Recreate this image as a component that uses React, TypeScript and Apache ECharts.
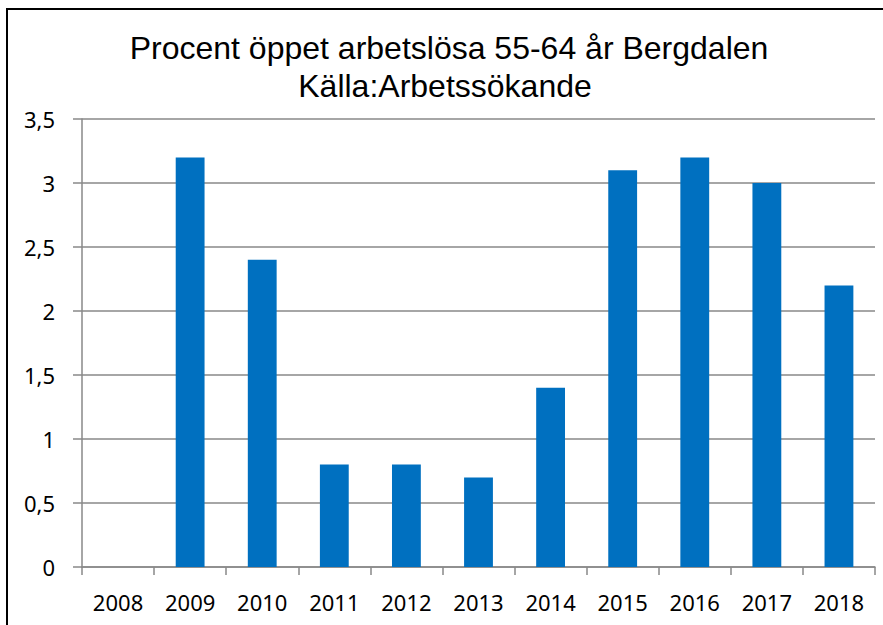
import React, { useEffect, useRef } from "react";
import * as echarts from "echarts";

const categories = ["2008", "2009", "2010", "2011", "2012", "2013", "2014", "2015", "2016", "2017", "2018"];
const values = [0, 3.2, 2.4, 0.8, 0.8, 0.7, 1.4, 3.1, 3.2, 3.0, 2.2];
const titleLines = ["Procent öppet arbetslösa 55-64 år Bergdalen", "Källa:Arbetssökande"];

export default function App() {
  const ref = useRef<HTMLDivElement>(null);
  useEffect(() => {
    document.body.style.margin = "0";
    const chart = echarts.init(ref.current!, null, { renderer: "svg" });
    const gridColor = "#898989";
    const titleStyle = {
      fontFamily: "Liberation Sans",
      fontSize: 32,
      fill: "#000000",
      align: "center",
      verticalAlign: "middle",
    };
    chart.setOption({
      animation: false,
      backgroundColor: "#ffffff",
      grid: { left: 82, right: 8, top: 119, bottom: 58, containLabel: false },
      graphic: [
        {
          type: "rect",
          shape: { x: 7, y: 9, width: 900, height: 700 },
          style: { fill: "none", stroke: "#000000", lineWidth: 2 },
          silent: true,
        },
        {
          type: "text",
          x: 449,
          y: 48,
          style: { ...titleStyle, text: titleLines[0] },
        },
        {
          type: "text",
          x: 445,
          y: 86,
          style: { ...titleStyle, text: titleLines[1] },
        },
      ],
      xAxis: {
        type: "category",
        data: categories,
        boundaryGap: true,
        axisLine: { show: true, lineStyle: { color: gridColor, width: 1.5 } },
        axisTick: { show: true, alignWithLabel: false, length: 8, lineStyle: { color: gridColor, width: 1.5 } },
        axisLabel: {
          color: "#000000",
          fontFamily: "Noto Sans",
          fontSize: 22,
          margin: 24,
          interval: 0,
        },
        splitLine: { show: false },
      },
      yAxis: {
        type: "value",
        min: 0,
        max: 3.5,
        interval: 0.5,
        axisLine: { show: true, lineStyle: { color: gridColor, width: 1.5 } },
        axisTick: { show: true, length: 9, lineStyle: { color: gridColor, width: 1.5 } },
        axisLabel: {
          color: "#000000",
          fontFamily: "Noto Sans",
          fontSize: 22,
          margin: 27,
          formatter: (v: number) => String(v).replace(".", ","),
        },
        splitLine: { show: true, lineStyle: { color: gridColor, width: 1.5 } },
      },
      series: [
        {
          type: "bar",
          data: values,
          barWidth: "40%",
          itemStyle: { color: "#0070C0" },
        },
      ],
    });
    return () => chart.dispose();
  }, []);
  return <div ref={ref} style={{ position: "absolute", left: 0, top: 0, width: 883, height: 625 }} />;
}
